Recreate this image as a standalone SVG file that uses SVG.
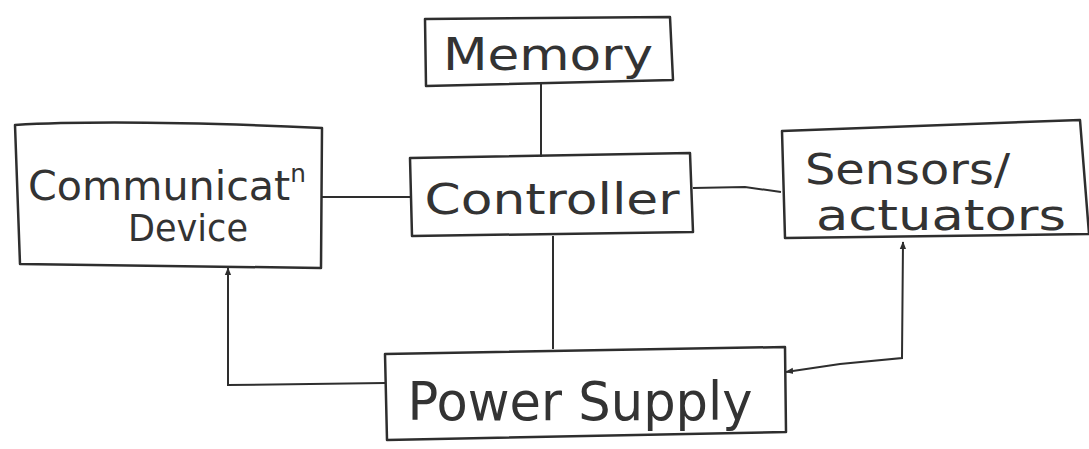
<svg xmlns="http://www.w3.org/2000/svg" width="1089" height="449" viewBox="0 0 1089 449">
<style>
.box{fill:none;stroke:#2e2e2e;stroke-width:2.5;stroke-linejoin:round}
.ln{fill:none;stroke:#2e2e2e;stroke-width:2}
.t{font-family:"DejaVu Sans","Liberation Sans",sans-serif;fill:#333;font-weight:normal}
</style>
<defs>
<marker id="ah" viewBox="0 0 10 10" refX="9" refY="5" markerWidth="8" markerHeight="8" orient="auto-start-reverse" markerUnits="userSpaceOnUse">
<path d="M0,1 L10,5 L0,9 z" fill="#2e2e2e"/>
</marker>
</defs>
<rect width="1089" height="449" fill="#ffffff"/>
<g id="connectors">
<line class="ln" x1="541" y1="84" x2="541" y2="157"/>
<line class="ln" x1="322" y1="197" x2="410" y2="197"/>
<path class="ln" d="M693,188 L745,187 L781,192"/>
<line class="ln" x1="553" y1="236" x2="553" y2="349"/>
<path class="ln" d="M385,383 L228,385 L228,268" marker-end="url(#ah)"/>
<path class="ln" d="M903,242 L902,358 L840,364 L786,372" marker-end="url(#ah)" marker-start="url(#ah)"/>
</g>
<g id="memory">
<path class="box" d="M425,19 L670,17 L673,80 L426,86 Z"/>
<text class="t" x="548" y="70" font-size="44" text-anchor="middle" textLength="210" lengthAdjust="spacingAndGlyphs">Memory</text>
</g>
<g id="controller">
<path class="box" d="M410,158 L690,153 L693,232 L412,236 Z"/>
<text class="t" x="552" y="214" font-size="42" text-anchor="middle" textLength="255" lengthAdjust="spacingAndGlyphs">Controller</text>
</g>
<g id="communication">
<path class="box" d="M15,125 Q120,119 322,128 L321,268 L20,264 Z"/>
<text class="t" x="28" y="200" font-size="40" textLength="278" lengthAdjust="spacingAndGlyphs">Communicat<tspan font-size="24" dy="-18">n</tspan></text>
<text class="t" x="188" y="241" font-size="38" text-anchor="middle" textLength="120" lengthAdjust="spacingAndGlyphs">Device</text>
</g>
<g id="sensors">
<path class="box" d="M782,131 L1080,120 L1089,234 L785,238 Z"/>
<text class="t" x="805" y="184" font-size="42" textLength="205" lengthAdjust="spacingAndGlyphs">Sensors/</text>
<text class="t" x="816" y="230" font-size="42" textLength="250" lengthAdjust="spacingAndGlyphs">actuators</text>
</g>
<g id="power">
<path class="box" d="M385,354 L785,347 L786,432 L387,440 Z"/>
<text class="t" x="580" y="420" font-size="54" text-anchor="middle" textLength="345" lengthAdjust="spacingAndGlyphs">Power Supply</text>
</g>
</svg>
